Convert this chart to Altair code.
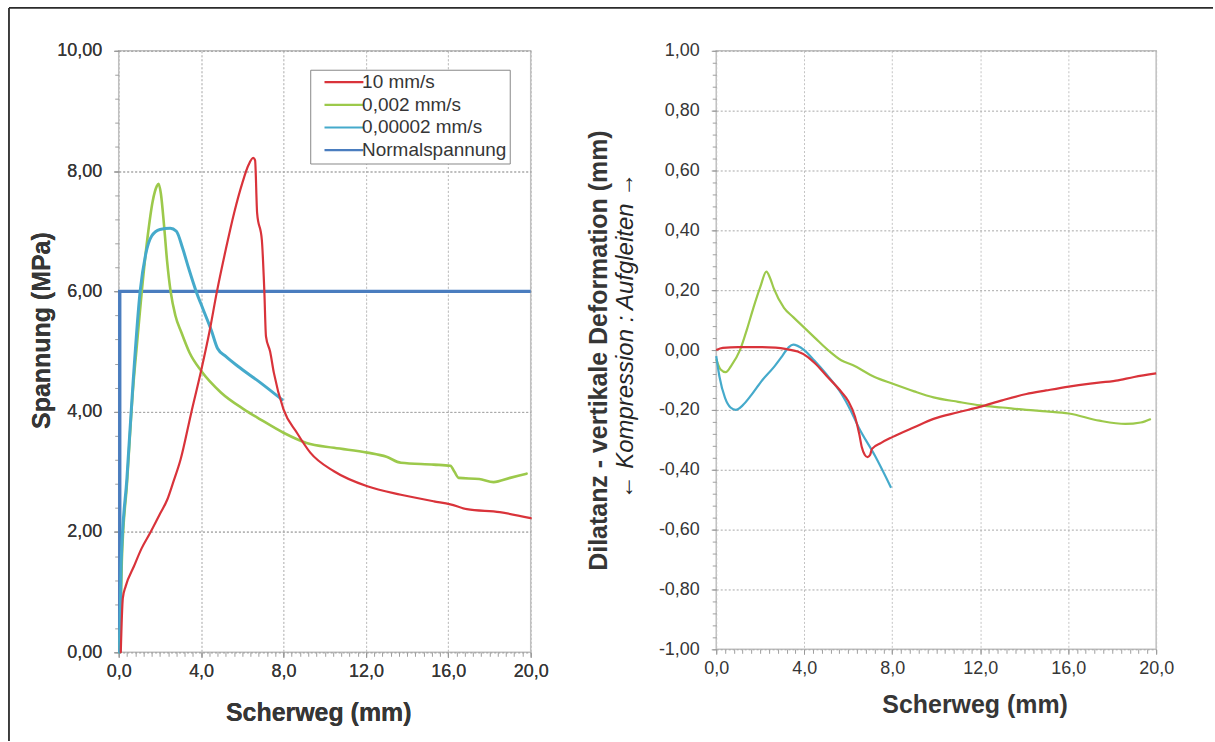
import altair as alt
import pandas as pd

# ---------------- data ----------------
SERIES = ["10 mm/s", "0,002 mm/s", "0,00002 mm/s", "Normalspannung"]
COLORS = ["#d9333a", "#9cc94b", "#45aacb", "#4a7dbf"]

# left panel: Spannung (MPa) vs Scherweg (mm)
red_x = [0.10, 0.20, 0.34, 0.74, 1.10, 1.55, 2.00, 2.36, 2.64, 3.00, 3.52, 4.00, 4.40, 4.77,
         5.20, 5.60, 6.00, 6.30, 6.53, 6.62, 6.72, 6.95, 7.07, 7.15, 7.35, 7.53, 8.00, 8.65,
         9.30, 10.45, 12.07, 13.70, 15.30, 16.10, 16.90, 18.50, 20.00]
red_y = [0.00, 0.90, 1.10, 1.43, 1.72, 2.00, 2.30, 2.54, 2.82, 3.20, 3.98, 4.68, 5.32, 6.00,
         6.70, 7.30, 7.80, 8.10, 8.22, 8.18, 7.30, 6.85, 6.00, 5.25, 5.00, 4.65, 4.04, 3.65,
         3.32, 3.01, 2.76, 2.62, 2.51, 2.46, 2.38, 2.33, 2.23]

green_x = [0.05, 0.15, 0.40, 0.70, 0.88, 1.12, 1.40, 1.65, 1.85, 1.94, 2.05, 2.20, 2.35, 2.52,
           2.75, 3.04, 3.44, 4.00, 4.96, 6.08, 6.89, 8.00, 9.12, 10.45, 12.07, 13.00, 13.70,
           15.30, 16.10, 16.30, 16.50, 17.50, 18.20, 19.00, 19.80]
green_y = [0.00, 1.50, 2.80, 4.40, 5.10, 6.00, 6.90, 7.50, 7.75, 7.79, 7.62, 7.10, 6.50, 6.00,
           5.60, 5.32, 4.98, 4.68, 4.32, 4.04, 3.87, 3.65, 3.48, 3.40, 3.32, 3.25, 3.15,
           3.12, 3.10, 3.00, 2.90, 2.88, 2.83, 2.90, 2.97]

blue_x = [0.04, 0.12, 0.40, 0.70, 1.04, 1.30, 1.60, 2.00, 2.50, 2.80, 3.10, 3.40, 3.76, 4.10,
          4.50, 4.80, 5.20, 5.77, 6.89, 7.93]
blue_y = [0.00, 1.50, 2.90, 4.50, 6.00, 6.60, 6.92, 7.03, 7.05, 7.00, 6.72, 6.38, 6.00, 5.70,
          5.35, 5.05, 4.92, 4.76, 4.48, 4.20]

normal_x = [0.05, 0.05, 20.0]
normal_y = [0.00, 6.00, 6.00]

# right panel: Dilatanz (mm) vs Scherweg (mm)
red_r_x = [0.0, 0.3, 1.0, 2.0, 2.7, 3.2, 3.7, 4.1, 4.5, 5.0, 5.69, 6.0, 6.31, 6.5, 6.62, 6.75,
           6.88, 7.0, 7.08, 7.5, 8.0, 9.0, 9.88, 11.0, 12.02, 13.0, 14.1, 15.0, 16.03, 17.0,
           18.18, 19.0, 20.0]
red_r_y = [0.0, 0.007, 0.01, 0.01, 0.008, 0.003, -0.005, -0.02, -0.045, -0.085, -0.14, -0.17,
           -0.223, -0.28, -0.325, -0.35, -0.358, -0.35, -0.33, -0.31, -0.291, -0.258, -0.23,
           -0.208, -0.189, -0.168, -0.147, -0.135, -0.122, -0.112, -0.102, -0.09, -0.078]

green_r_x = [0.0, 0.2, 0.43, 0.7, 1.08, 1.4, 1.69, 2.0, 2.28, 2.45, 2.62, 3.08, 3.5, 4.0, 4.5,
             5.08, 5.7, 6.2, 7.2, 8.0, 9.0, 9.88, 11.0, 12.02, 13.0, 14.1, 15.0, 16.03, 17.42,
             18.6, 19.3, 19.76]
green_r_y = [-0.03, -0.065, -0.074, -0.05, 0.0, 0.07, 0.141, 0.21, 0.262, 0.24, 0.205, 0.141,
             0.11, 0.075, 0.04, 0.0, -0.035, -0.05, -0.09, -0.112, -0.138, -0.158, -0.173,
             -0.185, -0.192, -0.2, -0.205, -0.212, -0.236, -0.247, -0.242, -0.23]

blue_r_x = [0.0, 0.15, 0.4, 0.65, 0.89, 1.2, 1.6, 2.1, 2.62, 3.0, 3.3, 3.5, 3.7, 4.0, 4.46, 5.0,
            5.69, 6.1, 6.46, 7.23, 7.95]
blue_r_y = [-0.02, -0.09, -0.16, -0.192, -0.2, -0.185, -0.15, -0.1, -0.057, -0.02, 0.01, 0.018,
            0.014, 0.0, -0.035, -0.08, -0.146, -0.2, -0.256, -0.355, -0.46]

# ---------------- tables ----------------
def table(xs, ys, name):
    return pd.DataFrame({"x": xs, "y": ys, "series": name, "i": list(range(len(xs)))})

left_curves = pd.concat([
    table(green_x, green_y, SERIES[1]),
    table(blue_x, blue_y, SERIES[2]),
    table(red_x, red_y, SERIES[0]),
])
left_normal = table(normal_x, normal_y, SERIES[3])
right_df = pd.concat([
    table(green_r_x, green_r_y, SERIES[1]),
    table(blue_r_x, blue_r_y, SERIES[2]),
    table(red_r_x, red_r_y, SERIES[0]),
])
dummy = pd.DataFrame({"x": [0.0], "y": [0.0]})

FONT = "Liberation Sans"
TXT = "#363636"
GRID = "#a8a8a8"
TITLE_SIZE = 25

fmt2 = "replace(replace(format(datum.value, '.2f'), '.', ','), '\u2212', '-')"
fmt1 = "replace(format(datum.value, '.1f'), '.', ',')"

x_major = [0, 4, 8, 12, 16, 20]
x_minor = [round(v * 0.4, 2) for v in range(0, 51)]
yl_major = [0, 2, 4, 6, 8, 10]
yl_minor = [round(v * 0.4, 2) for v in range(0, 26)]
yr_major = [round(-1 + 0.2 * v, 2) for v in range(0, 11)]
yr_minor = [round(-1 + 0.04 * v, 2) for v in range(0, 51)]

LW, LH = 413, 603
RW, RH = 441, 600


def x_axis(title_x, title_y):
    return alt.Axis(orient="bottom", values=x_major, labelExpr=fmt1, labelFontSize=18,
                    labelFont=FONT, labelColor=TXT, labelPadding=5, labelFlush=False,
                    tickSize=5, tickColor="#999999", domain=False, grid=True,
                    gridDash=[2, 2], gridColor="#c4c4c4", title="Scherweg (mm)",
                    titleFont=FONT, titleFontSize=TITLE_SIZE, titleFontWeight="bold",
                    titleColor=TXT, titleX=title_x, titleY=title_y, titleAlign="center",
                    titleBaseline="middle")


def minor_layer(xmin, ymin, xdom, ydom):
    return alt.Chart(dummy).mark_point(opacity=0).encode(
        x=alt.X("x:Q", scale=alt.Scale(domain=xdom, nice=False),
                axis=alt.Axis(values=xmin, labels=False, grid=False, domain=False,
                              tickSize=4, tickColor="#a0a0a0", orient="bottom", title=None)),
        y=alt.Y("y:Q", scale=alt.Scale(domain=ydom, nice=False),
                axis=alt.Axis(values=ymin, labels=False, grid=False, domain=False,
                              tickSize=4, tickColor="#a0a0a0", orient="left", title=None)),
    )


# ---------------- left panel ----------------
left_x = alt.X("x:Q", scale=alt.Scale(domain=[0, 20], nice=False), axis=x_axis(200, 60))
left_y = alt.Y("y:Q", scale=alt.Scale(domain=[0, 10], nice=False),
               axis=alt.Axis(orient="left", values=yl_major, labelExpr=fmt2, labelFontSize=18,
                             labelFont=FONT, labelColor=TXT, labelPadding=12, tickSize=5,
                             tickColor="#999999", domain=False, grid=True, gridDash=[2, 2],
                             gridColor=GRID, title="Spannung (MPa)", titleFont=FONT,
                             titleFontSize=TITLE_SIZE, titleFontWeight="bold", titleColor=TXT,
                             titleAngle=270, titleX=-77, titleY=280, titleAlign="center",
                             titleBaseline="middle"))
left_color = alt.Color("series:N", scale=alt.Scale(domain=SERIES, range=COLORS),
                       legend=alt.Legend(title=None, orient="none", legendX=192, legendY=19,
                                         fillColor="white", strokeColor="#888888",
                                         padding=3, labelFont=FONT, labelFontSize=19,
                                         labelColor=TXT, symbolType="M-4.7,0H1.8",
                                         symbolSize=144, symbolStrokeWidth=2.2,
                                         symbolOffset=30, labelOffset=0, rowPadding=2.7))
left_width = alt.StrokeWidth("series:O",
                             scale=alt.Scale(domain=SERIES, range=[2.2, 3.4, 5.2, 2.5]),
                             legend=None)

normal_line = alt.Chart(left_normal).mark_line(strokeJoin="miter").encode(
    x=left_x, y=left_y, color=left_color, strokeWidth=left_width, order=alt.Order("i:Q"))
curve_lines = alt.Chart(left_curves).mark_line(interpolate="monotone", strokeCap="round",
                                               strokeJoin="round").encode(
    x=left_x, y=left_y, color=left_color, strokeWidth=left_width, order=alt.Order("i:Q"))

frame_df = pd.DataFrame({"a": [0]})
frame_top = alt.Chart(frame_df).mark_rule(color="#2b2b2b", strokeWidth=1.8).encode(
    x=alt.value(-110), x2=alt.value(1097), y=alt.value(-43))
frame_left = alt.Chart(frame_df).mark_rule(color="#2b2b2b", strokeWidth=1.8).encode(
    x=alt.value(-110), y=alt.value(-43), y2=alt.value(692))

left = alt.layer(
    minor_layer(x_minor, yl_minor, [0, 20], [0, 10]),
    normal_line,
    curve_lines,
    frame_top,
    frame_left,
).resolve_axis(x="independent", y="independent").properties(width=LW, height=LH)

# ---------------- right panel ----------------
right_lines = alt.Chart(right_df).mark_line(strokeWidth=2.2, interpolate="monotone",
                                            strokeJoin="round").encode(
    x=alt.X("x:Q", scale=alt.Scale(domain=[0, 20], nice=False), axis=x_axis(259, 55)),
    y=alt.Y("y:Q", scale=alt.Scale(domain=[-1, 1], nice=False),
            axis=alt.Axis(orient="left", values=yr_major, labelExpr=fmt2, labelFontSize=18,
                          labelFont=FONT, labelColor=TXT, labelPadding=12, tickSize=5,
                          tickColor="#999999", domain=False, grid=True, gridDash=[2, 2],
                          gridColor=GRID, title="Dilatanz - vertikale Deformation (mm)",
                          titleFont=FONT, titleFontSize=TITLE_SIZE, titleFontWeight="bold",
                          titleColor=TXT, titleAngle=270, titleX=-118, titleY=RH / 2,
                          titleAlign="center", titleBaseline="middle")),
    color=alt.Color("series:N", scale=alt.Scale(domain=SERIES, range=COLORS), legend=None),
    order=alt.Order("i:Q"),
)

subtitle = alt.Chart(frame_df).mark_text(
    text="\u2190 Kompression : Aufgleiten \u2192", angle=270, font=FONT, fontStyle="italic",
    fontSize=24, color="#262626", align="center", baseline="middle",
).encode(x=alt.value(-90), y=alt.value(RH / 2 - 14))

right = alt.layer(
    minor_layer(x_minor, yr_minor, [0, 20], [-1, 1]),
    right_lines,
    subtitle,
).resolve_axis(x="independent", y="independent").properties(width=RW, height=RH)

chart = alt.hconcat(left, right, spacing=186, bounds="flush").properties(
    padding={"left": 7, "top": 5, "right": 0, "bottom": 0},
    background="white",
).configure_view(stroke="#c0c0c0", strokeWidth=1.5).resolve_scale(color="independent")

chart.save("out.html", embed_options={"renderer": "svg", "actions": False})
